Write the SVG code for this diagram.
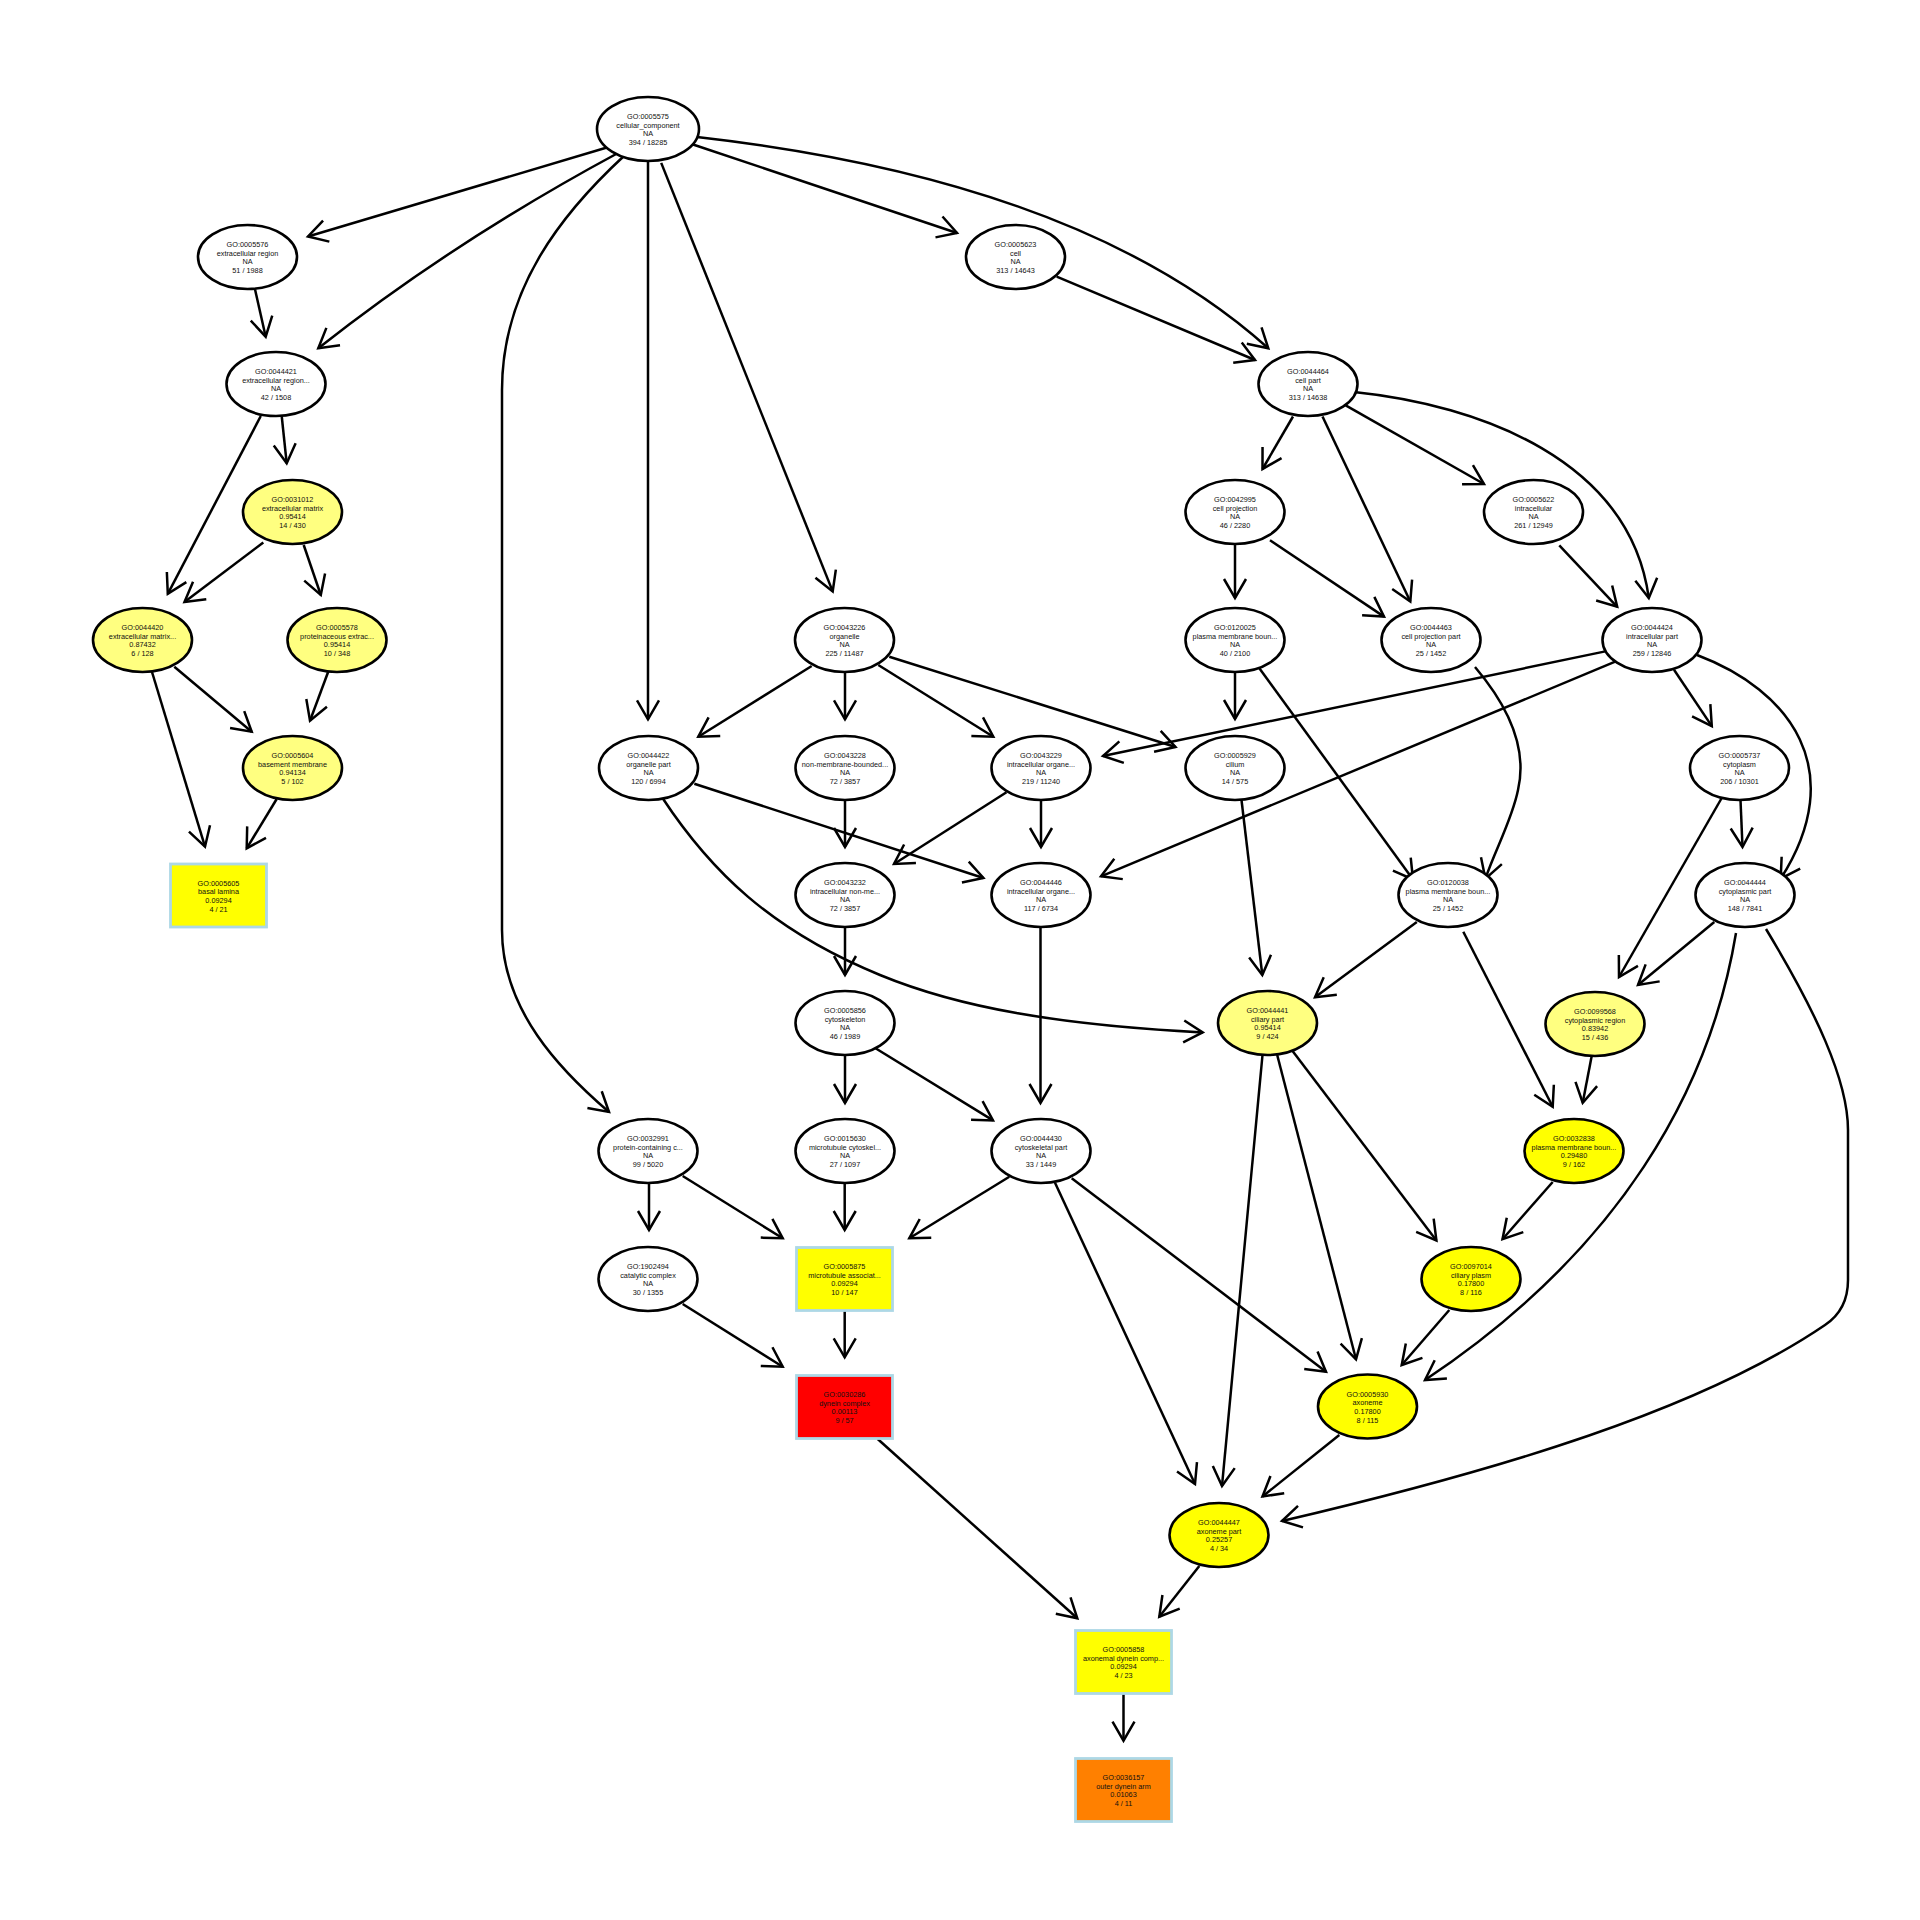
<svg xmlns="http://www.w3.org/2000/svg" width="1920" height="1920" viewBox="0 0 1920 1920">
<defs>
  <marker id="a" markerUnits="userSpaceOnUse" viewBox="-24 -14 28 28" refX="0" refY="0" markerWidth="28" markerHeight="28" orient="auto">
    <path d="M-19,-11 L0,0 L-19,11" fill="none" stroke="#000" stroke-width="2.5" stroke-linejoin="miter"/>
  </marker>
</defs>
<style>
  .n ellipse { fill:#fff; stroke:#000; stroke-width:2.6; }
  .n.lt ellipse { fill:#ffff80; }
  .n.y ellipse { fill:#ffff00; }
  .b rect { stroke:#add8e6; stroke-width:2.8; }
  .b.y rect { fill:#ffff00; }
  .b.r rect { fill:#ff0000; }
  .b.o rect { fill:#ff8000; }
  text { font-family:"Liberation Sans", Arial, sans-serif; font-size:7.3px; text-anchor:middle; fill:#111; }
  .e path { fill:none; stroke:#000; stroke-width:2.5; marker-end:url(#a); }
</style>
<rect width="1920" height="1920" fill="#fff"/>

<!-- connectors -->
<g class="e" id="edges">
  <path d="M608.6,147 L308,236.5"/>
  <path d="M618,153 C540,195 430,260 318.3,348.3"/>
  <path d="M624.5,155.5 C560,215 502,290 502,390 L502,930 C502,1010 560,1070 609,1112"/>
  <path d="M648,161 L648,719.3"/>
  <path d="M661.2,162.9 L832.7,591.4"/>
  <path d="M693,144.5 L957,233"/>
  <path d="M697,137 C900,160 1120,215 1268.3,348.3"/>
  <path d="M255,289.3 L265.7,336.7"/>
  <path d="M1056.7,276.7 L1255,360"/>
  <path d="M281.7,416 L286.7,463.3"/>
  <path d="M260.8,416 L167.8,593.9"/>
  <path d="M263.3,542.5 L184.5,602"/>
  <path d="M303.7,545 L320.8,595"/>
  <path d="M174.3,666.7 L251.7,731.7"/>
  <path d="M151.7,671 L205,846.7"/>
  <path d="M328.3,671.5 L310,720.7"/>
  <path d="M276.7,799 L246.7,848.3"/>
  <path d="M1293,416.5 L1262.5,469"/>
  <path d="M1322.5,416.5 L1410.3,601.5"/>
  <path d="M1345.7,405.3 L1484,484"/>
  <path d="M1354,392 C1480,405 1630,460 1648.8,598"/>
  <path d="M1235,544 L1235,598"/>
  <path d="M1270,540.2 L1384,616.6"/>
  <path d="M1559.3,545.4 L1617.2,606.8"/>
  <path d="M1605.3,651.4 L1103,756"/>
  <path d="M1616.4,661.2 L1101,876.3"/>
  <path d="M1674,669.8 L1711.8,726.1"/>
  <path d="M1697,655 C1790,690 1850,770 1780.7,878.7"/>
  <path d="M1475,667 C1520,720 1525,760 1518,790 C1512,820 1495,850 1485.4,878.7"/>
  <path d="M1235,672 L1235,719"/>
  <path d="M1258.8,667.4 L1413,879.5"/>
  <path d="M811.7,666 L698.3,736.7"/>
  <path d="M845,672 L845,719.3"/>
  <path d="M878.3,665 L993.3,736.7"/>
  <path d="M889.3,656.7 L1175.5,747"/>
  <path d="M694.3,783.7 L983.4,878"/>
  <path d="M662.5,798 C710,870 770,930 880,975 C960,1008 1060,1025 1202.7,1032.4"/>
  <path d="M845,799 L845,847"/>
  <path d="M1006.5,792.3 L894,864"/>
  <path d="M1041,799 L1041,847"/>
  <path d="M845,927 L845,975"/>
  <path d="M1040.5,927 L1040.5,1103"/>
  <path d="M1241.5,800 L1262.3,975"/>
  <path d="M1416.8,922 L1315,997.3"/>
  <path d="M1463.3,931.8 L1552.7,1106.7"/>
  <path d="M1740.5,800 L1742.5,847"/>
  <path d="M1722,797.5 C1700,835 1660,905 1619,977"/>
  <path d="M1714.3,922 L1638,985"/>
  <path d="M1736,933 C1710,1090 1620,1250 1425,1380"/>
  <path d="M1766,929 C1815,1010 1848,1080 1848,1130 L1848,1280 C1848,1300 1840,1315 1825,1325 C1700,1410 1500,1470 1282,1521"/>
  <path d="M1591.7,1056 L1582.7,1102.7"/>
  <path d="M845,1055 L845,1103"/>
  <path d="M875.5,1048.2 L993,1120.4"/>
  <path d="M1262.5,1055 L1222,1486"/>
  <path d="M1277.2,1055 L1356,1359.3"/>
  <path d="M1291.8,1050 L1436.4,1240.4"/>
  <path d="M1552.7,1182 L1502.5,1239.2"/>
  <path d="M649,1183 L649,1230"/>
  <path d="M682.7,1176 L782.7,1238.3"/>
  <path d="M844.7,1183 L844.7,1230"/>
  <path d="M1009.3,1176.7 L909.3,1238.3"/>
  <path d="M1055,1182.7 L1195,1484"/>
  <path d="M1071.7,1178.3 L1326,1371.7"/>
  <path d="M682.7,1304 L782.7,1366.7"/>
  <path d="M844.7,1311 L844.7,1357.3"/>
  <path d="M1449.3,1310 L1401.7,1365"/>
  <path d="M1339.3,1435 L1262.5,1496.5"/>
  <path d="M877.7,1439 L1077.3,1618.3"/>
  <path d="M1199.3,1566 L1159.3,1616.7"/>
  <path d="M1123.5,1694 L1123.5,1740.7"/>
</g>

<!-- nodes -->
<g id="GO0005575" class="n" transform="translate(648,129)"><ellipse rx="51" ry="32"/><text><tspan x="0" y="-10">GO:0005575</tspan><tspan x="0" y="-1.3">cellular_component</tspan><tspan x="0" y="7.4">NA</tspan><tspan x="0" y="16.1">394 / 18285</tspan></text></g>
<g id="GO0005576" class="n" transform="translate(247.5,257)"><ellipse rx="49.5" ry="32"/><text><tspan x="0" y="-10">GO:0005576</tspan><tspan x="0" y="-1.3">extracellular region</tspan><tspan x="0" y="7.4">NA</tspan><tspan x="0" y="16.1">51 / 1988</tspan></text></g>
<g id="GO0005623" class="n" transform="translate(1015.5,257)"><ellipse rx="49.5" ry="32"/><text><tspan x="0" y="-10">GO:0005623</tspan><tspan x="0" y="-1.3">cell</tspan><tspan x="0" y="7.4">NA</tspan><tspan x="0" y="16.1">313 / 14643</tspan></text></g>
<g id="GO0044421" class="n" transform="translate(276,384)"><ellipse rx="49.5" ry="32"/><text><tspan x="0" y="-10">GO:0044421</tspan><tspan x="0" y="-1.3">extracellular region...</tspan><tspan x="0" y="7.4">NA</tspan><tspan x="0" y="16.1">42 / 1508</tspan></text></g>
<g id="GO0044464" class="n" transform="translate(1308,384)"><ellipse rx="49.5" ry="32"/><text><tspan x="0" y="-10">GO:0044464</tspan><tspan x="0" y="-1.3">cell part</tspan><tspan x="0" y="7.4">NA</tspan><tspan x="0" y="16.1">313 / 14638</tspan></text></g>
<g id="GO0031012" class="n lt" transform="translate(292.5,512)"><ellipse rx="49.5" ry="32"/><text><tspan x="0" y="-10">GO:0031012</tspan><tspan x="0" y="-1.3">extracellular matrix</tspan><tspan x="0" y="7.4">0.95414</tspan><tspan x="0" y="16.1">14 / 430</tspan></text></g>
<g id="GO0042995" class="n" transform="translate(1235,512)"><ellipse rx="49.5" ry="32"/><text><tspan x="0" y="-10">GO:0042995</tspan><tspan x="0" y="-1.3">cell projection</tspan><tspan x="0" y="7.4">NA</tspan><tspan x="0" y="16.1">46 / 2280</tspan></text></g>
<g id="GO0005622" class="n" transform="translate(1533.5,512)"><ellipse rx="49.5" ry="32"/><text><tspan x="0" y="-10">GO:0005622</tspan><tspan x="0" y="-1.3">intracellular</tspan><tspan x="0" y="7.4">NA</tspan><tspan x="0" y="16.1">261 / 12949</tspan></text></g>
<g id="GO0044420" class="n lt" transform="translate(142.5,640)"><ellipse rx="49.5" ry="32"/><text><tspan x="0" y="-10">GO:0044420</tspan><tspan x="0" y="-1.3">extracellular matrix...</tspan><tspan x="0" y="7.4">0.87432</tspan><tspan x="0" y="16.1">6 / 128</tspan></text></g>
<g id="GO0005578" class="n lt" transform="translate(337,640)"><ellipse rx="49.5" ry="32"/><text><tspan x="0" y="-10">GO:0005578</tspan><tspan x="0" y="-1.3">proteinaceous extrac...</tspan><tspan x="0" y="7.4">0.95414</tspan><tspan x="0" y="16.1">10 / 348</tspan></text></g>
<g id="GO0043226" class="n" transform="translate(844.5,640)"><ellipse rx="49.5" ry="32"/><text><tspan x="0" y="-10">GO:0043226</tspan><tspan x="0" y="-1.3">organelle</tspan><tspan x="0" y="7.4">NA</tspan><tspan x="0" y="16.1">225 / 11487</tspan></text></g>
<g id="GO0120025" class="n" transform="translate(1235,640)"><ellipse rx="49.5" ry="32"/><text><tspan x="0" y="-10">GO:0120025</tspan><tspan x="0" y="-1.3">plasma membrane boun...</tspan><tspan x="0" y="7.4">NA</tspan><tspan x="0" y="16.1">40 / 2100</tspan></text></g>
<g id="GO0044463" class="n" transform="translate(1431,640)"><ellipse rx="49.5" ry="32"/><text><tspan x="0" y="-10">GO:0044463</tspan><tspan x="0" y="-1.3">cell projection part</tspan><tspan x="0" y="7.4">NA</tspan><tspan x="0" y="16.1">25 / 1452</tspan></text></g>
<g id="GO0044424" class="n" transform="translate(1652,640)"><ellipse rx="49.5" ry="32"/><text><tspan x="0" y="-10">GO:0044424</tspan><tspan x="0" y="-1.3">intracellular part</tspan><tspan x="0" y="7.4">NA</tspan><tspan x="0" y="16.1">259 / 12846</tspan></text></g>
<g id="GO0005604" class="n lt" transform="translate(292.5,768)"><ellipse rx="49.5" ry="32"/><text><tspan x="0" y="-10">GO:0005604</tspan><tspan x="0" y="-1.3">basement membrane</tspan><tspan x="0" y="7.4">0.94134</tspan><tspan x="0" y="16.1">5 / 102</tspan></text></g>
<g id="GO0044422" class="n" transform="translate(648.5,768)"><ellipse rx="49.5" ry="32"/><text><tspan x="0" y="-10">GO:0044422</tspan><tspan x="0" y="-1.3">organelle part</tspan><tspan x="0" y="7.4">NA</tspan><tspan x="0" y="16.1">120 / 6994</tspan></text></g>
<g id="GO0043228" class="n" transform="translate(845,768)"><ellipse rx="49.5" ry="32"/><text><tspan x="0" y="-10">GO:0043228</tspan><tspan x="0" y="-1.3">non-membrane-bounded...</tspan><tspan x="0" y="7.4">NA</tspan><tspan x="0" y="16.1">72 / 3857</tspan></text></g>
<g id="GO0043229" class="n" transform="translate(1041,768)"><ellipse rx="49.5" ry="32"/><text><tspan x="0" y="-10">GO:0043229</tspan><tspan x="0" y="-1.3">intracellular organe...</tspan><tspan x="0" y="7.4">NA</tspan><tspan x="0" y="16.1">219 / 11240</tspan></text></g>
<g id="GO0005929" class="n" transform="translate(1235,768)"><ellipse rx="49.5" ry="32"/><text><tspan x="0" y="-10">GO:0005929</tspan><tspan x="0" y="-1.3">cilium</tspan><tspan x="0" y="7.4">NA</tspan><tspan x="0" y="16.1">14 / 575</tspan></text></g>
<g id="GO0005737" class="n" transform="translate(1739.5,768)"><ellipse rx="49.5" ry="32"/><text><tspan x="0" y="-10">GO:0005737</tspan><tspan x="0" y="-1.3">cytoplasm</tspan><tspan x="0" y="7.4">NA</tspan><tspan x="0" y="16.1">206 / 10301</tspan></text></g>
<g id="GO0005605" class="b y" transform="translate(218.5,895.5)"><rect x="-48" y="-31.5" width="96" height="63"/><text><tspan x="0" y="-10">GO:0005605</tspan><tspan x="0" y="-1.3">basal lamina</tspan><tspan x="0" y="7.4">0.09294</tspan><tspan x="0" y="16.1">4 / 21</tspan></text></g>
<g id="GO0043232" class="n" transform="translate(845,895)"><ellipse rx="49.5" ry="32"/><text><tspan x="0" y="-10">GO:0043232</tspan><tspan x="0" y="-1.3">intracellular non-me...</tspan><tspan x="0" y="7.4">NA</tspan><tspan x="0" y="16.1">72 / 3857</tspan></text></g>
<g id="GO0044446" class="n" transform="translate(1041,895)"><ellipse rx="49.5" ry="32"/><text><tspan x="0" y="-10">GO:0044446</tspan><tspan x="0" y="-1.3">intracellular organe...</tspan><tspan x="0" y="7.4">NA</tspan><tspan x="0" y="16.1">117 / 6734</tspan></text></g>
<g id="GO0120038" class="n" transform="translate(1448,895)"><ellipse rx="49.5" ry="32"/><text><tspan x="0" y="-10">GO:0120038</tspan><tspan x="0" y="-1.3">plasma membrane boun...</tspan><tspan x="0" y="7.4">NA</tspan><tspan x="0" y="16.1">25 / 1452</tspan></text></g>
<g id="GO0044444" class="n" transform="translate(1745,895)"><ellipse rx="49.5" ry="32"/><text><tspan x="0" y="-10">GO:0044444</tspan><tspan x="0" y="-1.3">cytoplasmic part</tspan><tspan x="0" y="7.4">NA</tspan><tspan x="0" y="16.1">148 / 7841</tspan></text></g>
<g id="GO0005856" class="n" transform="translate(845,1023)"><ellipse rx="49.5" ry="32"/><text><tspan x="0" y="-10">GO:0005856</tspan><tspan x="0" y="-1.3">cytoskeleton</tspan><tspan x="0" y="7.4">NA</tspan><tspan x="0" y="16.1">46 / 1989</tspan></text></g>
<g id="GO0044441" class="n lt" transform="translate(1267.5,1023)"><ellipse rx="49.5" ry="32"/><text><tspan x="0" y="-10">GO:0044441</tspan><tspan x="0" y="-1.3">ciliary part</tspan><tspan x="0" y="7.4">0.95414</tspan><tspan x="0" y="16.1">9 / 424</tspan></text></g>
<g id="GO0099568" class="n lt" transform="translate(1595,1024)"><ellipse rx="49.5" ry="32"/><text><tspan x="0" y="-10">GO:0099568</tspan><tspan x="0" y="-1.3">cytoplasmic region</tspan><tspan x="0" y="7.4">0.83942</tspan><tspan x="0" y="16.1">15 / 436</tspan></text></g>
<g id="GO0032991" class="n" transform="translate(648,1151)"><ellipse rx="49.5" ry="32"/><text><tspan x="0" y="-10">GO:0032991</tspan><tspan x="0" y="-1.3">protein-containing c...</tspan><tspan x="0" y="7.4">NA</tspan><tspan x="0" y="16.1">99 / 5020</tspan></text></g>
<g id="GO0015630" class="n" transform="translate(845,1151)"><ellipse rx="49.5" ry="32"/><text><tspan x="0" y="-10">GO:0015630</tspan><tspan x="0" y="-1.3">microtubule cytoskel...</tspan><tspan x="0" y="7.4">NA</tspan><tspan x="0" y="16.1">27 / 1097</tspan></text></g>
<g id="GO0044430" class="n" transform="translate(1041,1151)"><ellipse rx="49.5" ry="32"/><text><tspan x="0" y="-10">GO:0044430</tspan><tspan x="0" y="-1.3">cytoskeletal part</tspan><tspan x="0" y="7.4">NA</tspan><tspan x="0" y="16.1">33 / 1449</tspan></text></g>
<g id="GO0032838" class="n y" transform="translate(1574,1151)"><ellipse rx="49.5" ry="32"/><text><tspan x="0" y="-10">GO:0032838</tspan><tspan x="0" y="-1.3">plasma membrane boun...</tspan><tspan x="0" y="7.4">0.29480</tspan><tspan x="0" y="16.1">9 / 162</tspan></text></g>
<g id="GO1902494" class="n" transform="translate(648,1279)"><ellipse rx="49.5" ry="32"/><text><tspan x="0" y="-10">GO:1902494</tspan><tspan x="0" y="-1.3">catalytic complex</tspan><tspan x="0" y="7.4">NA</tspan><tspan x="0" y="16.1">30 / 1355</tspan></text></g>
<g id="GO0005875" class="b y" transform="translate(844.5,1279)"><rect x="-48" y="-31.5" width="96" height="63"/><text><tspan x="0" y="-10">GO:0005875</tspan><tspan x="0" y="-1.3">microtubule associat...</tspan><tspan x="0" y="7.4">0.09294</tspan><tspan x="0" y="16.1">10 / 147</tspan></text></g>
<g id="GO0097014" class="n y" transform="translate(1471,1279)"><ellipse rx="49.5" ry="32"/><text><tspan x="0" y="-10">GO:0097014</tspan><tspan x="0" y="-1.3">ciliary plasm</tspan><tspan x="0" y="7.4">0.17800</tspan><tspan x="0" y="16.1">8 / 116</tspan></text></g>
<g id="GO0030286" class="b r" transform="translate(844.5,1407)"><rect x="-48" y="-31.5" width="96" height="63"/><text><tspan x="0" y="-10">GO:0030286</tspan><tspan x="0" y="-1.3">dynein complex</tspan><tspan x="0" y="7.4">0.00113</tspan><tspan x="0" y="16.1">9 / 57</tspan></text></g>
<g id="GO0005930" class="n y" transform="translate(1367.5,1406.5)"><ellipse rx="49.5" ry="32"/><text><tspan x="0" y="-10">GO:0005930</tspan><tspan x="0" y="-1.3">axoneme</tspan><tspan x="0" y="7.4">0.17800</tspan><tspan x="0" y="16.1">8 / 115</tspan></text></g>
<g id="GO0044447" class="n y" transform="translate(1219,1535)"><ellipse rx="49.5" ry="32"/><text><tspan x="0" y="-10">GO:0044447</tspan><tspan x="0" y="-1.3">axoneme part</tspan><tspan x="0" y="7.4">0.25257</tspan><tspan x="0" y="16.1">4 / 34</tspan></text></g>
<g id="GO0005858" class="b y" transform="translate(1123.5,1662)"><rect x="-48" y="-31.5" width="96" height="63"/><text><tspan x="0" y="-10">GO:0005858</tspan><tspan x="0" y="-1.3">axonemal dynein comp...</tspan><tspan x="0" y="7.4">0.09294</tspan><tspan x="0" y="16.1">4 / 23</tspan></text></g>
<g id="GO0036157" class="b o" transform="translate(1123.5,1790)"><rect x="-48" y="-31.5" width="96" height="63"/><text><tspan x="0" y="-10">GO:0036157</tspan><tspan x="0" y="-1.3">outer dynein arm</tspan><tspan x="0" y="7.4">0.01063</tspan><tspan x="0" y="16.1">4 / 11</tspan></text></g>
</svg>
